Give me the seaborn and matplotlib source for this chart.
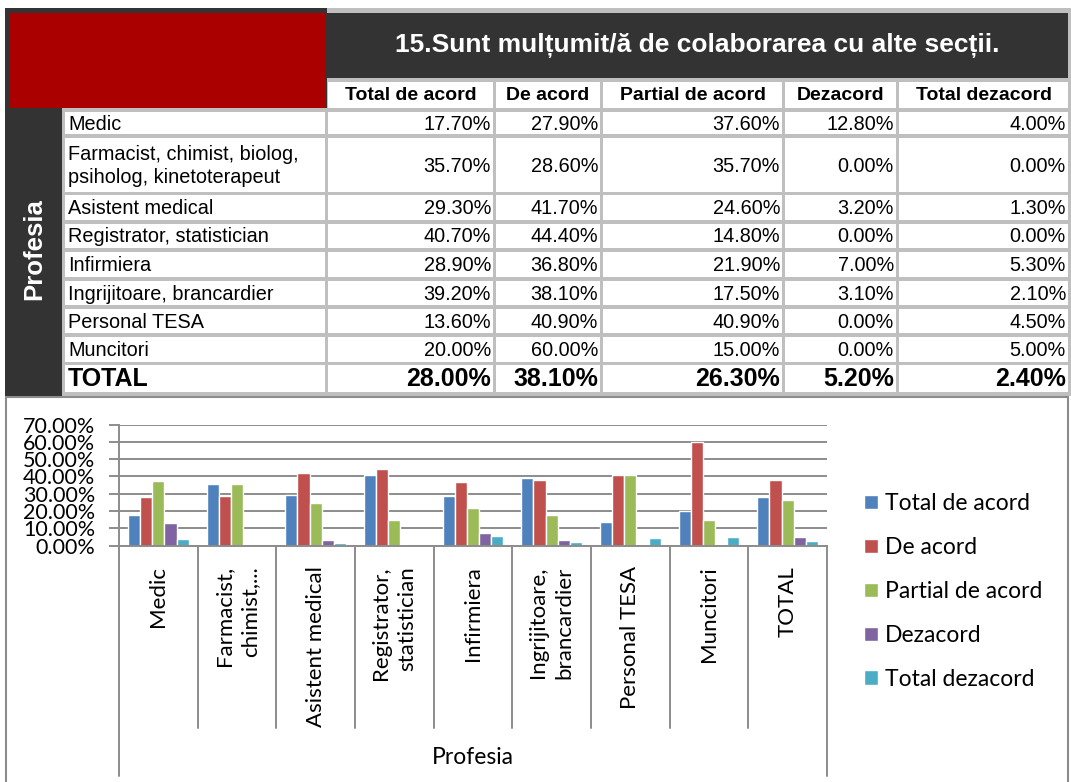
import pandas as pd
import matplotlib.pyplot as plt
import matplotlib.patches as mpatches
import matplotlib.transforms as mtransforms
import seaborn as sns

# Data (percent)
categories = ["Medic", "Farmacist, chimist, biolog,\npsiholog, kinetoterapeut",
              "Asistent medical", "Registrator, statistician", "Infirmiera",
              "Ingrijitoare, brancardier", "Personal TESA", "Muncitori", "TOTAL"]
tick_labels = ["Medic", "Farmacist,\nchimist,...", "Asistent medical",
               "Registrator,\nstatistician", "Infirmiera", "Ingrijitoare,\nbrancardier",
               "Personal TESA", "Muncitori", "TOTAL"]
answers = ["Total de acord", "De acord", "Partial de acord", "Dezacord", "Total dezacord"]

total_de_acord = [17.7, 35.7, 29.3, 40.7, 28.9, 39.2, 13.6, 20.0, 28.0]
de_acord = [27.9, 28.6, 41.7, 44.4, 36.8, 38.1, 40.9, 60.0, 38.1]
partial_de_acord = [37.6, 35.7, 24.6, 14.8, 21.9, 17.5, 40.9, 15.0, 26.3]
dezacord = [12.8, 0.0, 3.2, 0.0, 7.0, 3.1, 0.0, 0.0, 5.2]
total_dezacord = [4.0, 0.0, 1.3, 0.0, 5.3, 2.1, 4.5, 5.0, 2.4]

title = "15.Sunt mulțumit/ă de colaborarea cu alte secții."
colors = ["#4F81BD", "#C0504D", "#9BBB59", "#8064A2", "#4BACC6"]

series = [total_de_acord, de_acord, partial_de_acord, dezacord, total_dezacord]
df = pd.DataFrame({
    "Profesia": categories * len(answers),
    "Raspuns": [a for a in answers for _ in categories],
    "Procent": [v for s in series for v in s],
})

sns.set_theme(style="white")
plt.rcParams["font.family"] = ["Lato", "DejaVu Sans"]
plt.rcParams["text.color"] = "black"

W, H = 1071, 782
fig = plt.figure(figsize=(W / 100, H / 100), dpi=100)

# ---- table (drawn in pixel coordinates) ----
tab = fig.add_axes([0, 0, 1, 1])
tab.set_xlim(0, W)
tab.set_ylim(H, 0)
tab.axis("off")

GAP, DARK, RED, GRAY = "#BFBFBF", "#333333", "#AA0000", "#8C8C8C"
TFONT = "Liberation Sans"


def box(x0, y0, x1, y1, color):
    tab.add_patch(mpatches.Rectangle((x0, y0), x1 - x0, y1 - y0,
                                     facecolor=color, edgecolor="none"))


box(5, 8, 1071, 396, GAP)
box(5, 8, 327, 108, DARK)
box(10, 13, 325, 108, RED)
box(5, 108, 62, 396, DARK)
box(327, 13, 1068, 78, DARK)
tab.text(697, 46, title, color="white", fontsize=19, fontweight="bold",
         family=TFONT, ha="center", va="center")
tab.text(34, 249, "Profesia", color="white", fontsize=18.5, fontweight="bold",
         family=TFONT, ha="center", va="center", rotation=90)

col_edges = [(328, 493), (496, 600), (603, 782), (785, 896), (899, 1068)]
row_edges = [(112, 134), (138, 192), (195, 220), (224, 248), (252, 277),
             (281, 305), (309, 333), (337, 362), (365, 392)]

for (x0, x1), name in zip(col_edges, answers):
    box(x0, 82, x1, 108, "white")
    tab.text((x0 + x1) / 2, 96, name, fontsize=14, fontweight="bold",
             family=TFONT, ha="center", va="center")

for r, ((y0, y1), name) in enumerate(zip(row_edges, categories)):
    last = r == len(categories) - 1
    fs = 18 if last else 14.3
    fw = "bold" if last else "normal"
    box(65, y0, 325, y1, "white")
    tab.text(68, (y0 + y1) / 2 + 1, name, fontsize=fs, fontweight=fw,
             family=TFONT, ha="left", va="center", linespacing=1.25)
    for (x0, x1), s in zip(col_edges, series):
        box(x0, y0, x1, y1, "white")
        tab.text(x1 - 2, (y0 + y1) / 2 + 1, f"{s[r]:.2f}%", fontsize=fs, fontweight=fw,
                 family=TFONT, ha="right", va="center")

# chart frame
box(6, 397, 1068, 782, "white")
tab.plot([6, 1068], [397, 397], color=GRAY, lw=1.5)
tab.plot([6, 6], [397, 782], color=GRAY, lw=1.5)
tab.plot([1068, 1068], [397, 782], color=GRAY, lw=1.5)

# ---- bar chart ----
L, R, T, B = 119, 827, 424.5, 545.5
ax = fig.add_axes([L / W, 1 - B / H, (R - L) / W, (B - T) / H])
sns.barplot(data=df, x="Profesia", y="Procent", hue="Raspuns", order=categories,
            hue_order=answers, palette=colors, saturation=1, width=0.77, ax=ax)

ax.set_xlim(-0.5, len(categories) - 0.5)
ax.set_ylim(0, 70)
yt = list(range(0, 80, 10))
ax.set_yticks(yt)
ax.set_yticklabels([f"{v:.2f}%" for v in yt])
ax.set_xticks(range(len(categories)))
ax.set_xticklabels(tick_labels, rotation=90, va="top", ha="center",
                   multialignment="right", linespacing=1.4)
ax.set_ylabel("")
ax.yaxis.grid(True, color=GRAY, lw=1.4)
ax.set_axisbelow(True)
for side in ("top", "right"):
    ax.spines[side].set_visible(False)
for side in ("left", "bottom"):
    ax.spines[side].set_color(GRAY)
    ax.spines[side].set_linewidth(1.4)
ax.tick_params(axis="y", length=7, width=1.4, color=GRAY, pad=10,
               labelsize=15.5, labelcolor="black", left=True)
ax.tick_params(axis="x", length=0, pad=15, labelsize=16, labelcolor="black")

# category separators and extended axis lines
tr = mtransforms.blended_transform_factory(ax.transData, ax.transAxes)
sep_bottom = (B - 728) / (B - T)
axis_bottom = (B - 776) / (B - T)
for i in range(1, len(categories)):
    ax.plot([i - 0.5, i - 0.5], [0, sep_bottom], transform=tr, color=GRAY,
            lw=1.4, clip_on=False)
ax.plot([-0.5, -0.5], [0, axis_bottom], transform=tr, color=GRAY, lw=1.4, clip_on=False)
ax.plot([len(categories) - 0.5] * 2, [0, axis_bottom], transform=tr, color=GRAY,
        lw=1.4, clip_on=False)

ax.set_xlabel("Profesia", fontsize=16.5, color="black")
ax.xaxis.set_label_coords(0.5, (B - 758) / (B - T))
ax.xaxis.label.set_va("center")

handles, labels = ax.get_legend_handles_labels()
ax.legend(handles, labels, loc="center left", bbox_to_anchor=(864 / W, 1 - 591.5 / H),
          bbox_transform=fig.transFigure, frameon=False, fontsize=16.5,
          handlelength=0.6, handleheight=0.6, handletextpad=0.3,
          labelspacing=1.0, borderpad=0, borderaxespad=0)

fig.savefig("out.png", dpi=100)
